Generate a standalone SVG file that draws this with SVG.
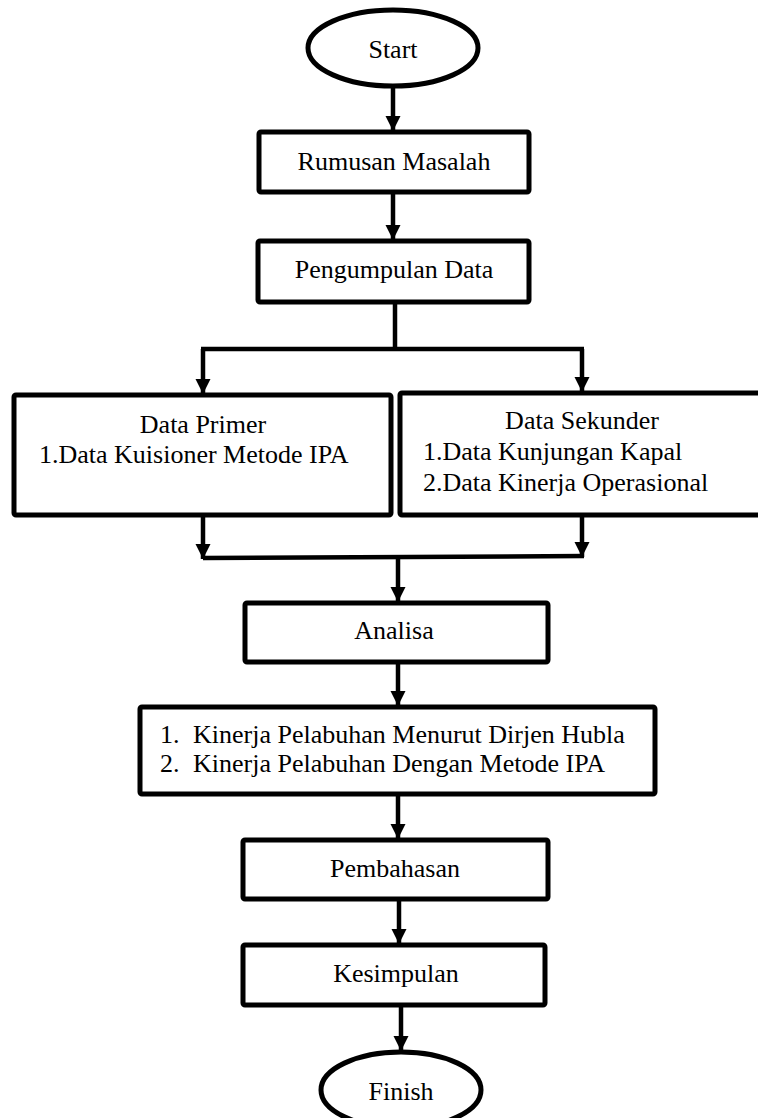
<svg xmlns="http://www.w3.org/2000/svg" width="758" height="1118" viewBox="0 0 758 1118">
<defs>
<style>
.box{fill:#fff;stroke:#000;stroke-width:5}
.t{font-family:"Liberation Serif","Times New Roman",serif;font-size:26px;fill:#000}
.c{text-anchor:middle}
.ln{fill:none;stroke:#000;stroke-width:4.5}
.ar{stroke:#000;stroke-width:4.5;fill:none;marker-end:url(#ah)}
</style>
<marker id="ah" viewBox="0 0 10 10" refX="10" refY="5" markerWidth="3.4" markerHeight="3.4" orient="auto" markerUnits="strokeWidth">
<path d="M0,0 L10,5 L0,10 z" fill="#000"/>
</marker>
</defs>
<rect width="758" height="1118" fill="#fff"/>
<g id="connectors">
<line class="ar" x1="393" y1="86" x2="393" y2="131"/>
<line class="ar" x1="393" y1="193" x2="393" y2="240"/>
<polyline class="ln" points="395,303 395,349"/>
<polyline class="ln" points="201,349 584,349"/>
<line class="ar" x1="203" y1="349" x2="203" y2="394"/>
<line class="ar" x1="582" y1="349" x2="582" y2="392"/>
<line class="ar" x1="203" y1="516" x2="203" y2="559"/>
<line class="ar" x1="582" y1="516" x2="582" y2="557"/>
<polyline class="ln" points="203,558 584,556"/>
<line class="ar" x1="398" y1="557" x2="398" y2="602"/>
<line class="ar" x1="398" y1="663" x2="398" y2="706"/>
<line class="ar" x1="398" y1="795" x2="398" y2="839"/>
<line class="ar" x1="399" y1="900" x2="399" y2="944"/>
<line class="ar" x1="401" y1="1006" x2="401" y2="1051"/>
</g>
<g id="start">
<ellipse class="box" cx="393" cy="48" rx="85" ry="38" stroke-width="4.5"/>
<text class="t c" x="393" y="58">Start</text>
</g>
<g id="rumusan">
<rect class="box" x="259" y="132" width="270" height="60" rx="2"/>
<text class="t c" x="394" y="170">Rumusan Masalah</text>
</g>
<g id="pengumpulan">
<rect class="box" x="258" y="241" width="271" height="61" rx="2"/>
<text class="t c" x="394" y="278">Pengumpulan Data</text>
</g>
<g id="primer">
<rect class="box" x="14" y="395" width="377" height="120" rx="2"/>
<text class="t c" x="203" y="433">Data Primer</text>
<text class="t" x="39" y="463">1.Data Kuisioner Metode IPA</text>
</g>
<g id="sekunder">
<rect class="box" x="400" y="393" width="370" height="122" rx="2"/>
<text class="t c" x="582" y="429">Data Sekunder</text>
<text class="t" x="423" y="460">1.Data Kunjungan Kapal</text>
<text class="t" x="423" y="491">2.Data Kinerja Operasional</text>
</g>
<g id="analisa">
<rect class="box" x="245" y="603" width="303" height="59" rx="2"/>
<text class="t c" x="394" y="639">Analisa</text>
</g>
<g id="kinerja">
<rect class="box" x="140" y="707" width="515" height="87" rx="2"/>
<text class="t" x="160" y="743">1.</text>
<text class="t" x="193" y="743">Kinerja Pelabuhan Menurut Dirjen Hubla</text>
<text class="t" x="160" y="772">2.</text>
<text class="t" x="193" y="772">Kinerja Pelabuhan Dengan Metode IPA</text>
</g>
<g id="pembahasan">
<rect class="box" x="243" y="840" width="305" height="59" rx="2"/>
<text class="t c" x="395" y="877">Pembahasan</text>
</g>
<g id="kesimpulan">
<rect class="box" x="243" y="945" width="302" height="60" rx="2"/>
<text class="t c" x="396" y="982">Kesimpulan</text>
</g>
<g id="finish">
<ellipse class="box" cx="401" cy="1090" rx="80" ry="38" stroke-width="4.5"/>
<text class="t c" x="401" y="1100">Finish</text>
</g>
</svg>
